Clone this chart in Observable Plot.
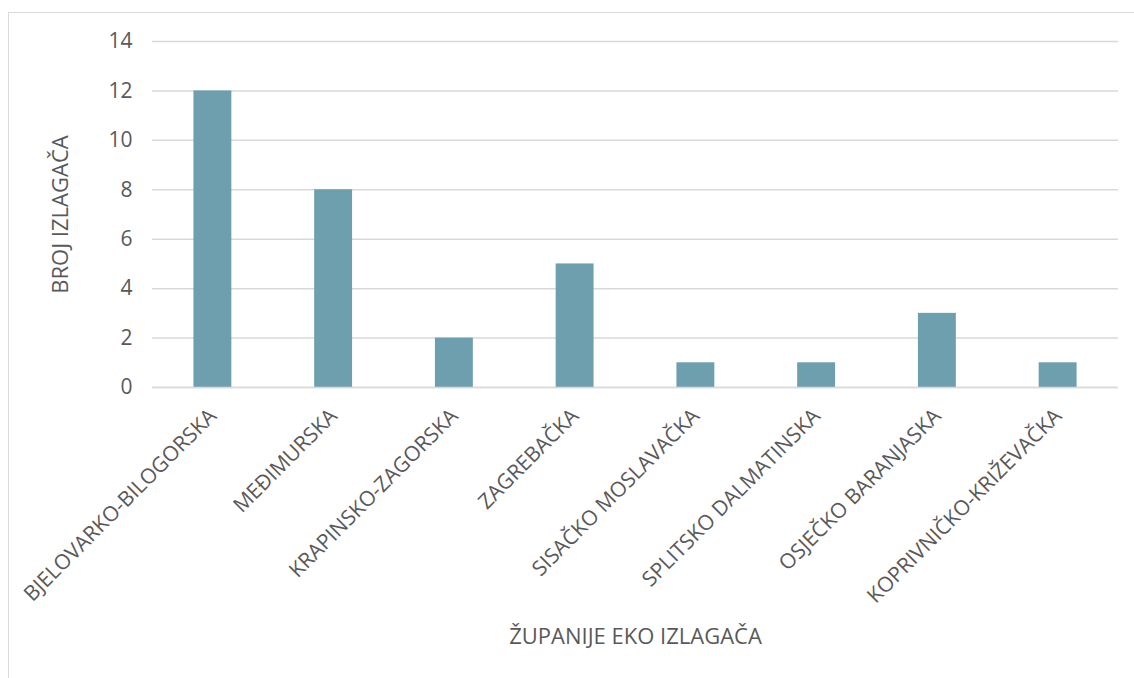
<!DOCTYPE html>
<html>
<head>
<meta charset="utf-8">
<script src="https://cdn.jsdelivr.net/npm/d3@7"></script>
<script src="https://cdn.jsdelivr.net/npm/@observablehq/plot@0.6"></script>
<style>
  html, body { margin: 0; padding: 0; background: #fff; overflow: hidden; }
  #wrap { position: relative; width: 1134px; height: 678px; }
  #frame { position: absolute; left: 8px; top: 12px; width: 1200px; height: 800px; border: 1.5px solid #d9d9d9; box-sizing: border-box; }
  #chart { position: absolute; left: 0; top: 0; }
</style>
</head>
<body>
<div id="wrap"><div id="frame"></div><div id="chart"></div></div>
<script>
const counties = [
  "BJELOVARKO-BILOGORSKA",
  "MEĐIMURSKA",
  "KRAPINSKO-ZAGORSKA",
  "ZAGREBAČKA",
  "SISAČKO MOSLAVAČKA",
  "SPLITSKO DALMATINSKA",
  "OSJEČKO BARANJASKA",
  "KOPRIVNIČKO-KRIŽEVAČKA"
];
const exhibitors = [12, 8, 2, 5, 1, 1, 3, 1];
const yTicks = [0, 2, 4, 6, 8, 10, 12, 14];
const xTitle = "ŽUPANIJE EKO IZLAGAČA";
const yTitle = "BROJ IZLAGAČA";

const data = counties.map((c, i) => ({county: c, value: exhibitors[i]}));

const chart = Plot.plot({
  width: 1134,
  height: 678,
  marginLeft: 152,
  marginRight: 16,
  marginTop: 41,
  marginBottom: 291,
  style: {fontFamily: "'Open Sans', sans-serif", fontSize: "21px", color: "#595959", background: "transparent"},
  x: {domain: counties, paddingInner: 0.686, paddingOuter: 0.343, round: false, label: null},
  y: {domain: [0, 14], label: null},
  marks: [
    Plot.gridY(yTicks, {stroke: "#d9d9d9", strokeOpacity: 1, strokeWidth: 1.5}),
    Plot.barY(data, {x: "county", y: "value", fill: "#6e9fae"}),
    Plot.ruleY([0], {stroke: "#d9d9d9", strokeWidth: 1.5}),
    Plot.axisY(yTicks, {tickSize: 0, tickPadding: 20, label: null, fill: "#595959", fontSize: 21}),
    Plot.axisX({tickSize: 0, tickRotate: -45, tickPadding: 25, label: null, fill: "#595959", fontSize: 21}),
    Plot.text([yTitle], {frameAnchor: "left", textAnchor: "middle", dx: -92, rotate: -90, fill: "#595959", fontSize: 22}),
    Plot.text([xTitle], {frameAnchor: "bottom", lineAnchor: "bottom", dy: 256, fill: "#595959", fontSize: 22})
  ]
});
document.getElementById("chart").appendChild(chart);
</script>
</body>
</html>
